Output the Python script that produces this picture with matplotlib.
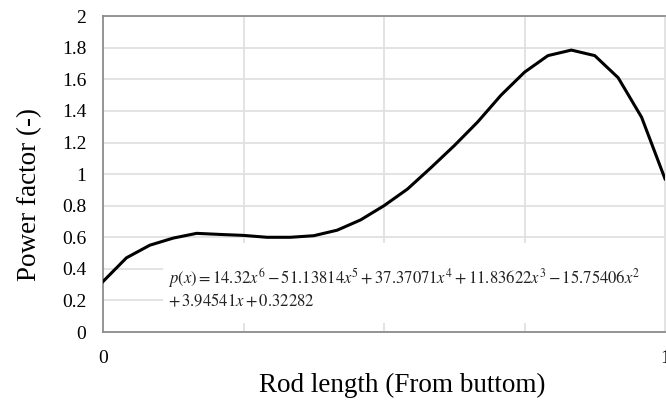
import matplotlib.pyplot as plt
from matplotlib.patches import Rectangle

plt.rcParams["font.family"] = ["Liberation Serif", "DejaVu Serif"]
plt.rcParams["mathtext.fontset"] = "stix"

# power factor sampled along the rod, x normalised from the bottom
rod_pos = [i / 24 for i in range(25)]
power_factor = [0.32, 0.47, 0.55, 0.595, 0.625, 0.618, 0.612, 0.60, 0.60,
                0.61, 0.645, 0.71, 0.80, 0.905, 1.04, 1.18, 1.33, 1.50,
                1.645, 1.75, 1.785, 1.75, 1.61, 1.36, 0.97]

y_ticks = [0, 0.2, 0.4, 0.6, 0.8, 1, 1.2, 1.4, 1.6, 1.8, 2]
y_tick_labels = ["0", "0.2", "0.4", "0.6", "0.8", "1", "1.2", "1.4", "1.6", "1.8", "2"]
x_ticks = [0, 1]
x_grid = [0.25, 0.5, 0.75]

fit_line1 = r"$p(x) = 14.32x^6 - 51.13814x^5 + 37.37071x^4 + 11.83622x^3 - 15.75406x^2$"
fit_line2 = r"$+\,3.94541x + 0.32282$"

fig = plt.figure(figsize=(6.66, 4.03), dpi=100)
ax = fig.add_axes([0.1547, 0.176, 0.8438, 0.784])

ax.plot(rod_pos, power_factor, color="black", lw=2.2, zorder=4)

ax.set_xlim(0, 1)
ax.set_ylim(0, 2)
ax.set_yticks(y_ticks)
ax.set_yticklabels(y_tick_labels)
ax.set_xticks(x_ticks)
ax.set_xticks(x_grid, minor=True)
ax.tick_params(axis="both", which="both", length=0, labelsize=14)
ax.tick_params(axis="x", pad=13)
ax.tick_params(axis="y", pad=12)

ax.grid(True, which="major", axis="y", color="#e0e0e0", lw=1.3, zorder=0)
ax.grid(True, which="minor", axis="x", color="#e0e0e0", lw=1.3, zorder=0)

for side in ["left", "bottom", "top"]:
    ax.spines[side].set_color("#8c8c8c")
    ax.spines[side].set_linewidth(1.3)
ax.spines["right"].set_color("#e0e0e0")
ax.spines["right"].set_linewidth(1.3)

# white panel behind the fitted polynomial
ax.add_patch(Rectangle((0.107, 0.057), 0.893, 0.506, facecolor="white",
                       edgecolor="none", zorder=2))
ax.text(0.115, 0.304, fit_line1, fontsize=12, color="#222222", zorder=5,
        va="baseline")
ax.text(0.115, 0.165, fit_line2, fontsize=12, color="#222222", zorder=5,
        va="baseline")

ax.set_xlabel("Rod length (From buttom)", fontsize=19.5)
ax.set_ylabel("Power factor (-)", fontsize=19.5)
ax.xaxis.set_label_coords(0.533, -0.13)
ax.yaxis.set_label_coords(-0.108, 0.434)

fig.savefig("out.png", dpi=100)
